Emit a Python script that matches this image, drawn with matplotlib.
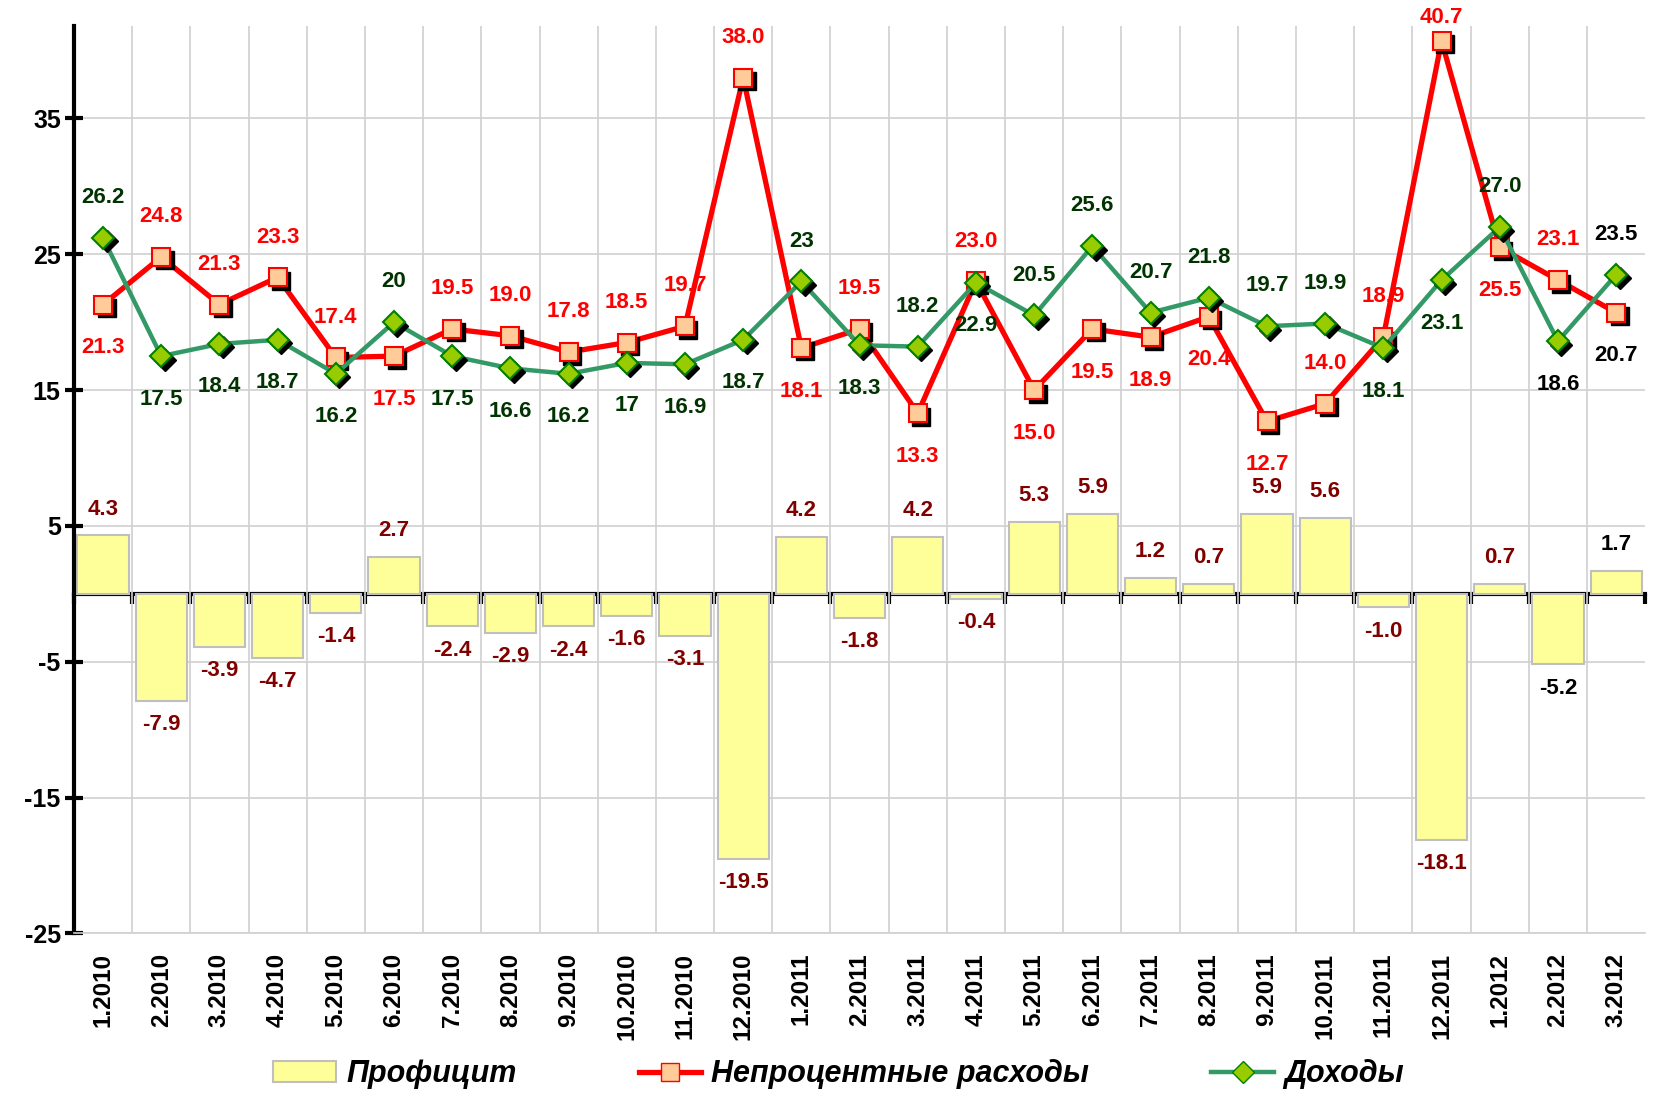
import numpy as np
import matplotlib
matplotlib.use('Agg')
import matplotlib.pyplot as plt
from matplotlib.transforms import offset_copy
from matplotlib.patches import Patch
from matplotlib.lines import Line2D

plt.rcParams['font.family'] = ['Liberation Sans', 'DejaVu Sans']
plt.rcParams['font.weight'] = 'bold'
plt.rcParams['axes.unicode_minus'] = False

months = ['1.2010', '2.2010', '3.2010', '4.2010', '5.2010', '6.2010', '7.2010',
          '8.2010', '9.2010', '10.2010', '11.2010', '12.2010', '1.2011', '2.2011',
          '3.2011', '4.2011', '5.2011', '6.2011', '7.2011', '8.2011', '9.2011',
          '10.2011', '11.2011', '12.2011', '1.2012', '2.2012', '3.2012']

surplus = [4.3, -7.9, -3.9, -4.7, -1.4, 2.7, -2.4, -2.9, -2.4, -1.6, -3.1, -19.5,
           4.2, -1.8, 4.2, -0.4, 5.3, 5.9, 1.2, 0.7, 5.9, 5.6, -1.0, -18.1, 0.7, -5.2, 1.7]
expenses = [21.3, 24.8, 21.3, 23.3, 17.4, 17.5, 19.5, 19.0, 17.8, 18.5, 19.7, 38.0,
            18.1, 19.5, 13.3, 23.0, 15.0, 19.5, 18.9, 20.4, 12.7, 14.0, 18.9, 40.7,
            25.5, 23.1, 20.7]
income = [26.2, 17.5, 18.4, 18.7, 16.2, 20, 17.5, 16.6, 16.2, 17, 16.9, 18.7,
          23, 18.3, 18.2, 22.9, 20.5, 25.6, 20.7, 21.8, 19.7, 19.9, 18.1, 23.1,
          27.0, 18.6, 23.5]
income_text = ['26.2', '17.5', '18.4', '18.7', '16.2', '20', '17.5', '16.6', '16.2',
               '17', '16.9', '18.7', '23', '18.3', '18.2', '22.9', '20.5', '25.6',
               '20.7', '21.8', '19.7', '19.9', '18.1', '23.1', '27.0', '18.6', '23.5']

# label placement: 'a' above, 'b' below
exp_pos = list('baaaabaaaaaabababbbbbaaabab')
inc_pos = list('abbbbabbbbbbababaaaaaabbaba')

names = ['Профицит', 'Непроцентные расходы', 'Доходы']

x = np.arange(len(months))
n = len(months)
fig = plt.figure(figsize=(16.54, 11.03), dpi=100)
ax = fig.add_axes([0.0447, 0.1537, 0.95, 0.8227])
ymin, ymax = -25, 41.8

ax.bar(x, surplus, width=0.88, color='#FFFF99', edgecolor='#BFBFBF', linewidth=1.5,
       zorder=2)

shadow = offset_copy(ax.transData, fig=fig, x=2.5, y=-2.5, units='points')
ax.plot(x, expenses, color='#FF0000', lw=3.8, zorder=3)
ax.plot(x, expenses, ls='none', marker='s', ms=13, color='black', transform=shadow, zorder=4)
ax.plot(x, expenses, ls='none', marker='s', ms=13, mfc='#FFCC99', mec='#FF0000', mew=1.5, zorder=5)
ax.plot(x, income, color='#339966', lw=3.2, zorder=6)
ax.plot(x, income, ls='none', marker='D', ms=11, color='black', transform=shadow, zorder=7)
ax.plot(x, income, ls='none', marker='D', ms=11, mfc='#99CC00', mec='#008000', mew=1.5, zorder=8)

fs = 16
for i in range(n):
    c = 'black' if i >= n - 2 else '#800000'
    off = 19 if surplus[i] >= 0 else -17
    ax.annotate(f'{surplus[i]:.1f}', (x[i], surplus[i]), xytext=(0, off),
                textcoords='offset points', ha='center', va='center',
                fontsize=fs, fontweight='bold', color=c, zorder=10)
    c = 'black' if i == n - 1 else '#FF0000'
    off = 29 if exp_pos[i] == 'a' else -31
    if expenses[i] + 3 > ymax:
        off = 17  # no room above the top of the plot area
    ax.annotate(f'{expenses[i]:.1f}', (x[i], expenses[i]), xytext=(0, off),
                textcoords='offset points', ha='center', va='center',
                fontsize=fs, fontweight='bold', color=c, zorder=10)
    c = 'black' if i >= n - 2 else '#003300'
    off = 29 if inc_pos[i] == 'a' else -31
    ax.annotate(income_text[i], (x[i], income[i]), xytext=(0, off),
                textcoords='offset points', ha='center', va='center',
                fontsize=fs, fontweight='bold', color=c, zorder=10)

ax.set_xlim(-0.5, n - 0.5)
ax.set_ylim(ymin, ymax)
ax.set_yticks([-25, -15, -5, 5, 15, 25, 35])
ax.set_xticks(x)
ax.set_xticklabels(months, rotation=90, fontsize=17.5, fontweight='bold')
ax.set_xticks(x[:-1] + 0.5, minor=True)
ax.tick_params(axis='x', which='both', length=0, pad=14)
ax.tick_params(axis='y', direction='inout', length=13, width=3, labelsize=18, pad=3)
ax.grid(axis='y', color='#D0D0D0', lw=1.2, zorder=0)
ax.grid(axis='x', which='minor', color='#D0D0D0', lw=1.2, zorder=0)
ax.set_axisbelow(True)

for s in ['top', 'right']:
    ax.spines[s].set_visible(False)
ax.spines['bottom'].set_color('#D0D0D0')
ax.spines['bottom'].set_linewidth(1.2)
ax.spines['left'].set_linewidth(3)

# zero axis with tick marks at category borders
zero_ax = ax.secondary_xaxis((0 - ymin) / (ymax - ymin))
zero_ax.spines['bottom'].set_linewidth(3)
zero_ax.set_xticks(np.arange(n + 1) - 0.5)
zero_ax.set_xticklabels([])
zero_ax.tick_params(direction='out', length=7, width=3)

handles = [Patch(facecolor='#FFFF99', edgecolor='#BFBFBF', lw=1.5),
           Line2D([], [], color='#FF0000', lw=3.8, marker='s', ms=13, mfc='#FFCC99', mec='#FF0000'),
           Line2D([], [], color='#339966', lw=3.2, marker='D', ms=11, mfc='#99CC00', mec='#008000')]
fig.legend(handles, names, loc='center', bbox_to_anchor=(0.507, 0.026), ncol=3,
           frameon=False, prop={'size': 22, 'weight': 'bold', 'style': 'italic'},
           handlelength=2.05, handletextpad=0.33, columnspacing=4.0)

fig.savefig('out.png', dpi=100)
